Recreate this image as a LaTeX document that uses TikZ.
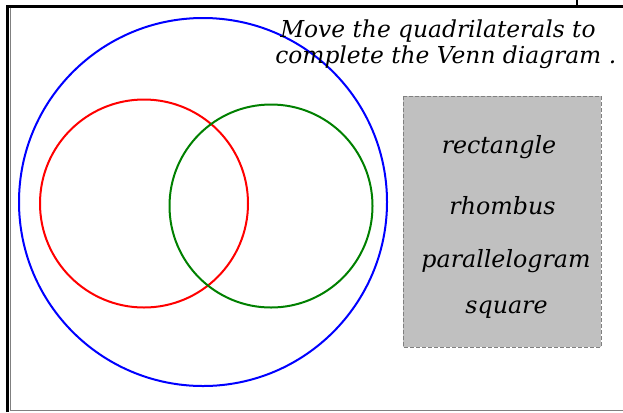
\documentclass[tikz,border=0pt]{standalone}
\usepackage{fontspec}
\setmainfont{DejaVu Serif}
\definecolor{vgreen}{RGB}{0,128,0}
\definecolor{poolgray}{RGB}{192,192,192}
\begin{document}
\begin{tikzpicture}[x=0.75pt,y=-0.75pt,
  vcircle/.style={line width=1.5pt},
  title/.style={anchor=base west,inner sep=0pt,font=\fontsize{17.5}{21}\selectfont\itshape},
  word/.style={anchor=base,inner sep=0pt,font=\fontsize{17.8}{21}\selectfont\itshape},
  pool/.style={draw=gray,fill=poolgray,line width=0.75pt,dash pattern=on 3pt off 1.5pt,inner sep=0pt}]
\useasboundingbox (0,0) rectangle (623,412);
% frame
\draw[line width=2.25pt] (7,412) -- (7,6) -- (623,6);
\draw[line width=1.5pt] (577,0) -- (577,6);
\draw[gray,line width=1.2pt] (10.5,7.5) -- (10.5,410.5) -- (623,410.5);
% circles
\draw[vcircle,blue] (203,202) circle [radius=184];
\draw[vcircle,red] (144,203.5) circle [radius=104];
\draw[vcircle,vgreen] (271,206) circle [radius=101.5];
% instructions
\node[title] (t1) at (280,37) {Move the quadrilaterals to};
\node[title] (t2) at (275,63) {complete the Venn diagram .};
% pool of words
\path[pool] (403,96) rectangle (601,347);
\node[word] (w1) at (499,153.5) {rectangle};
\node[word] (w2) at (502.5,214.5) {rhombus};
\node[word] (w3) at (506,267.5) {parallelogram};
\node[word] (w4) at (506.5,313.5) {square};
\end{tikzpicture}
\end{document}
